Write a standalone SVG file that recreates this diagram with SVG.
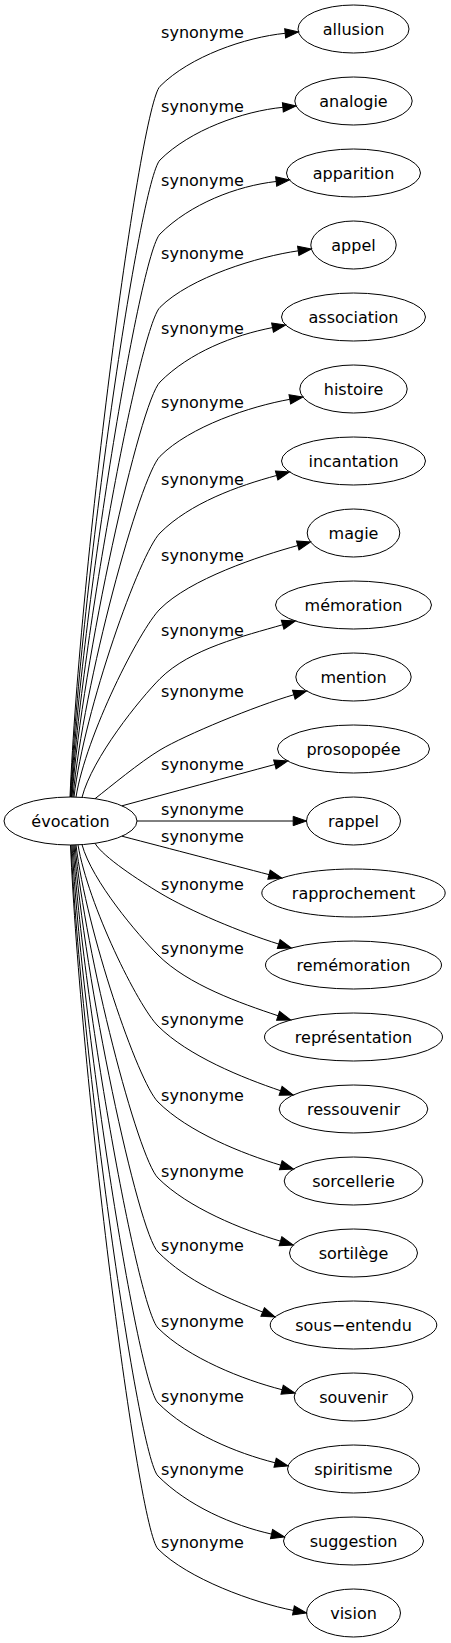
<svg xmlns="http://www.w3.org/2000/svg" width="451" height="1643" viewBox="0 0 451 1643">
<defs>
<style>
.node ellipse{fill:none;stroke:#000;stroke-width:1}
text{font-family:"DejaVu Sans","Noto Sans",sans-serif;font-size:16px;fill:#000;text-anchor:middle}
.edge path{fill:none;stroke:#000;stroke-width:1;marker-end:url(#arr)}
</style>
<marker id="arr" markerUnits="userSpaceOnUse" markerWidth="16" markerHeight="12" refX="0" refY="4.67" orient="auto" overflow="visible">
<path d="M0,0 L13.3,4.67 L0,9.33 Z" fill="#000" stroke="#000" stroke-width="1"/>
</marker>
</defs>
<rect width="451" height="1643" fill="#fff"/>
<g id="edges">
<g class="edge" id="e0"><path d="M70,797 C80,562.5 140,106.3 160,86.3 C190,56.3 245.37,37.26 285.17,33.31"/><text x="202.5" y="38">synonyme</text></g>
<g class="edge" id="e1"><path d="M70.5,797 C80.5,586.8 140,180 160,160 C190,130 243.05,111.2 282.86,107.3"/><text x="202.5" y="111.7">synonyme</text></g>
<g class="edge" id="e2"><path d="M71,797 C81,611.2 140,254 160,234 C190,204 236.43,185.97 276.18,181.49"/><text x="202.5" y="185.7">synonyme</text></g>
<g class="edge" id="e3"><path d="M71.5,797 C81.5,635.4 140,327.3 160,307.3 C190,277.3 258.62,256.39 298.23,250.84"/><text x="202.5" y="259">synonyme</text></g>
<g class="edge" id="e4"><path d="M72,797 C82,660.1 140,402 160,382 C190,352 233.31,335.3 272.55,327.57"/><text x="202.5" y="333.7">synonyme</text></g>
<g class="edge" id="e5"><path d="M73,797 C83,684.6 140,476.3 160,456.3 C190,426.3 250.43,406.33 289.81,399.33"/><text x="202.5" y="408">synonyme</text></g>
<g class="edge" id="e6"><path d="M74,797 C84,709.9 140,553 160,533 C190,503 238.04,485.88 276.66,475.46"/><text x="202.5" y="484.7">synonyme</text></g>
<g class="edge" id="e7"><path d="M76,797 C86,735 140,629 160,609 C190,579 259.19,556.1 297.77,545.52"/><text x="202.5" y="560.7">synonyme</text></g>
<g class="edge" id="e8"><path d="M82,797.4 C92,758.2 140,698.7 160,678.7 C190,648.7 244.23,635.92 282.63,624.72"/><text x="202.5" y="636.4">synonyme</text></g>
<g class="edge" id="e9"><path d="M95,798.7 C110,787 140,762 160,750 C185,735 255.44,705.95 293.83,694.73"/><text x="202.5" y="697.4">synonyme</text></g>
<g class="edge" id="e10"><path d="M122,805.8 C170,792.8 230,776.6 274.86,764.47"/><text x="202.5" y="769.7">synonyme</text></g>
<g class="edge" id="e11"><path d="M137,821 L293.2,821"/><text x="202.5" y="814.7">synonyme</text></g>
<g class="edge" id="e12"><path d="M122,836.2 C170,848.75 230,864.4 269.03,874.64"/><text x="202.5" y="842.4">synonyme</text></g>
<g class="edge" id="e13"><path d="M95,843.3 C103,857 140,881 160,893 C190,911 240.51,932.16 278.7,944.05"/><text x="202.5" y="889.7">synonyme</text></g>
<g class="edge" id="e14"><path d="M82,844.6 C92,881 138,935 158,955 C188,985 240.16,1003.05 278.09,1015.77"/><text x="202.5" y="953.7">synonyme</text></g>
<g class="edge" id="e15"><path d="M78,844.9 C88,904.6 138,1006 158,1026 C188,1056 242.71,1077.92 280.6,1090.74"/><text x="202.5" y="1024.7">synonyme</text></g>
<g class="edge" id="e16"><path d="M76,844.9 C86,929.7 138,1082 158,1102 C188,1132 242.44,1153.73 280.76,1165.19"/><text x="202.5" y="1100.7">synonyme</text></g>
<g class="edge" id="e17"><path d="M75,845 C85,954.9 138,1158 158,1178 C188,1208 242.15,1229.65 280.46,1241.17"/><text x="202.5" y="1176.7">synonyme</text></g>
<g class="edge" id="e18"><path d="M74,845 C84,979.3 138,1232 158,1252 C188,1282 225.51,1297.2 262.65,1312.06"/><text x="202.5" y="1250.7">synonyme</text></g>
<g class="edge" id="e19"><path d="M73,845 C83,1004.4 138,1308 158,1328 C188,1358 243.35,1379.85 282.11,1389.72"/><text x="202.5" y="1326.7">synonyme</text></g>
<g class="edge" id="e20"><path d="M72,845 C82,1029.1 138,1383 158,1403 C188,1433 236.3,1453.07 275.1,1462.77"/><text x="202.5" y="1401.7">synonyme</text></g>
<g class="edge" id="e21"><path d="M71,845 C81,1053.2 138,1456 158,1476 C188,1506 232.49,1525.31 271.52,1534.08"/><text x="202.5" y="1474.7">synonyme</text></g>
<g class="edge" id="e22"><path d="M70.5,845 C80.5,1077.3 138,1529 158,1549 C188,1579 254.19,1602.77 293.45,1610.45"/><text x="202.5" y="1547.7">synonyme</text></g>
</g>
<g id="n-evocation" class="node"><ellipse cx="70.5" cy="821" rx="66.5" ry="24"/><text x="70.5" y="826.5">évocation</text></g>
<g id="n-allusion" class="node"><ellipse cx="353.5" cy="29" rx="55.5" ry="24"/><text x="353.5" y="34.5">allusion</text></g>
<g id="n-analogie" class="node"><ellipse cx="353.5" cy="101" rx="58.7" ry="24"/><text x="353.5" y="106.5">analogie</text></g>
<g id="n-apparition" class="node"><ellipse cx="353.5" cy="173" rx="67" ry="24"/><text x="353.5" y="178.5">apparition</text></g>
<g id="n-appel" class="node"><ellipse cx="353.5" cy="245" rx="42.7" ry="24"/><text x="353.5" y="250.5">appel</text></g>
<g id="n-association" class="node"><ellipse cx="353.5" cy="317" rx="72" ry="24"/><text x="353.5" y="322.5">association</text></g>
<g id="n-histoire" class="node"><ellipse cx="353.5" cy="389" rx="53.7" ry="24"/><text x="353.5" y="394.5">histoire</text></g>
<g id="n-incantation" class="node"><ellipse cx="353.5" cy="461" rx="72" ry="24"/><text x="353.5" y="466.5">incantation</text></g>
<g id="n-magie" class="node"><ellipse cx="353.5" cy="533" rx="46.3" ry="24"/><text x="353.5" y="538.5">magie</text></g>
<g id="n-memoration" class="node"><ellipse cx="353.5" cy="605" rx="78" ry="24"/><text x="353.5" y="610.5">mémoration</text></g>
<g id="n-mention" class="node"><ellipse cx="353.5" cy="677" rx="57.7" ry="24"/><text x="353.5" y="682.5">mention</text></g>
<g id="n-prosopopee" class="node"><ellipse cx="353.5" cy="749" rx="76" ry="24"/><text x="353.5" y="754.5">prosopopée</text></g>
<g id="n-rappel" class="node"><ellipse cx="353.5" cy="821" rx="47" ry="24"/><text x="353.5" y="826.5">rappel</text></g>
<g id="n-rapprochement" class="node"><ellipse cx="353.5" cy="893" rx="91.7" ry="24"/><text x="353.5" y="898.5">rapprochement</text></g>
<g id="n-rememoration" class="node"><ellipse cx="353.5" cy="965" rx="88" ry="24"/><text x="353.5" y="970.5">remémoration</text></g>
<g id="n-representation" class="node"><ellipse cx="353.5" cy="1037" rx="89" ry="24"/><text x="353.5" y="1042.5">représentation</text></g>
<g id="n-ressouvenir" class="node"><ellipse cx="353.5" cy="1109" rx="74.3" ry="24"/><text x="353.5" y="1114.5">ressouvenir</text></g>
<g id="n-sorcellerie" class="node"><ellipse cx="353.5" cy="1181" rx="69.3" ry="24"/><text x="353.5" y="1186.5">sorcellerie</text></g>
<g id="n-sortilege" class="node"><ellipse cx="353.5" cy="1253" rx="64" ry="24"/><text x="353.5" y="1258.5">sortilège</text></g>
<g id="n-sous-entendu" class="node"><ellipse cx="353.5" cy="1325" rx="83.3" ry="24"/><text x="353.5" y="1330.5">sous−entendu</text></g>
<g id="n-souvenir" class="node"><ellipse cx="353.5" cy="1397" rx="59.3" ry="24"/><text x="353.5" y="1402.5">souvenir</text></g>
<g id="n-spiritisme" class="node"><ellipse cx="353.5" cy="1469" rx="66" ry="24"/><text x="353.5" y="1474.5">spiritisme</text></g>
<g id="n-suggestion" class="node"><ellipse cx="353.5" cy="1541" rx="70" ry="24"/><text x="353.5" y="1546.5">suggestion</text></g>
<g id="n-vision" class="node"><ellipse cx="353.5" cy="1613" rx="47" ry="24"/><text x="353.5" y="1618.5">vision</text></g>
</svg>
